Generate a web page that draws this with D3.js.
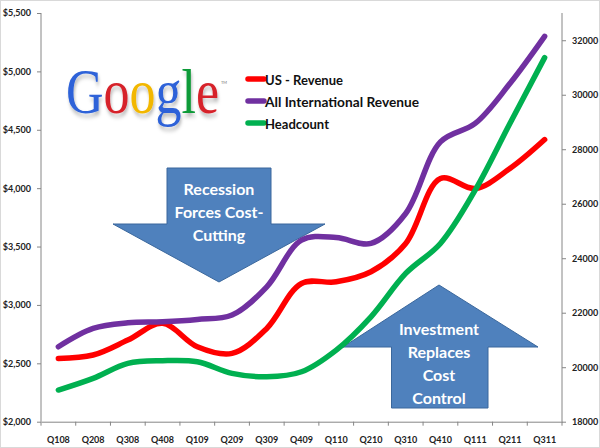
<!DOCTYPE html>
<html><head><meta charset="utf-8">
<script src="https://cdn.jsdelivr.net/npm/d3@7"></script>
<style>
html,body{margin:0;padding:0;background:#fff;}
svg{display:block;font-family:Lato,"Open Sans",sans-serif;}
</style></head>
<body><svg id="chart" width="600" height="448"></svg>
<script>
const categories = ["Q108","Q208","Q308","Q408","Q109","Q209","Q309","Q409","Q110","Q210","Q310","Q410","Q111","Q211","Q311"];
const usRevenue = [2542,2571,2699,2842,2642,2585,2799,3184,3198,3284,3527,4083,3997,4168,4416];
const intlRevenue = [2642,2799,2847,2856,2876,2913,3155,3555,3578,3527,3783,4396,4554,4896,5300];
const headcount = [19162,19591,20141,20237,20200,19775,19650,19834,20629,21850,23442,24542,26497,28942,31362];
const leftTicks = [2000,2500,3000,3500,4000,4500,5000,5500];
const rightTicks = [18000,20000,22000,24000,26000,28000,30000,32000];
const seriesNames = ["US - Revenue","All International  Revenue","Headcount"];
const seriesColors = ["#FF0000","#7030A0","#00B050"];

const svg = d3.select("#chart");
const L = 41, R = 562, T = 13, B = 421.7;

svg.append("rect").attr("x",0.5).attr("y",0.5).attr("width",599).attr("height",447)
  .attr("fill","#fff").attr("stroke","#d9d9d9");

const x = d3.scaleBand().domain(categories).range([L,R]).padding(0);
const yL = d3.scaleLinear().domain([2000,5500]).range([B,T]);
const yR = d3.scaleLinear().domain([18000,33000]).range([B,T]);
const cx = c => x(c) + x.bandwidth()/2;

// Google logo
const defs = svg.append("defs");
const f = defs.append("filter").attr("id","sh").attr("x","-10%").attr("y","-10%").attr("width","130%").attr("height","140%");
f.append("feDropShadow").attr("dx",1).attr("dy",3).attr("stdDeviation",1.6).attr("flood-color","#000").attr("flood-opacity",0.28);
const logoLetters = [["G","#2D62D8"],["o","#D6222A"],["o","#F2B705"],["g","#2D62D8"],["l","#0E9A38"],["e","#D6222A"]];
const logo = svg.append("g").attr("transform","translate(66,113) scale(1,1.2)").attr("filter","url(#sh)")
  .append("text").attr("x",0).attr("y",0)
  .attr("font-family","'Liberation Serif','DejaVu Serif',serif").attr("font-size",52);
logoLetters.forEach(([ch,col]) => logo.append("tspan").attr("fill",col).text(ch));
svg.append("text").attr("x",221).attr("y",84).attr("font-size",4).attr("fill","#777").text("TM");

// axes
const axisColor = "#868686";
const gL = svg.append("g").attr("transform",`translate(${L},0)`)
  .call(d3.axisLeft(yL).tickValues(leftTicks).tickFormat(d3.format("$,")).tickSize(4).tickSizeOuter(0));
const gR = svg.append("g").attr("transform",`translate(${R},0)`)
  .call(d3.axisRight(yR).tickValues(rightTicks).tickFormat(d3.format("d")).tickSize(4).tickSizeOuter(0));
const gB = svg.append("g").attr("transform",`translate(0,${B})`)
  .call(d3.axisBottom(x).tickSize(0).tickSizeOuter(0));
[gL,gR,gB].forEach(g => {
  g.select(".domain").attr("stroke",axisColor);
  g.selectAll(".tick line").attr("stroke",axisColor);
  g.selectAll("text").attr("font-family","Lato,sans-serif").attr("font-weight","bold")
   .attr("font-size",9).attr("fill","#222");
});
gL.select(".domain").attr("d",`M0,${T}V${B}`);
gR.select(".domain").attr("d",`M0,${T}V${B}`);
gL.selectAll(".tick text").attr("x",-10);
gR.selectAll(".tick text").attr("x",10);
gB.selectAll(".tick text").attr("y",15);
const edges = categories.map(c => x(c)).concat([R]);
svg.append("g").selectAll("line").data(edges).join("line")
  .attr("x1",d=>d).attr("x2",d=>d).attr("y1",B).attr("y2",B+4).attr("stroke",axisColor);

// annotation arrows
const arrowFill = "#4F81BD", arrowStroke = "#3A679C";
const down = {sx0:167, sx1:271, top:168, neck:224, wx0:113, wx1:325, tipX:219, tipY:282};
svg.append("path").attr("d",
  `M${down.sx0},${down.top}H${down.sx1}V${down.neck}H${down.wx1}L${down.tipX},${down.tipY}L${down.wx0},${down.neck}H${down.sx0}Z`)
  .attr("fill",arrowFill).attr("stroke",arrowStroke).attr("stroke-width",1);
const up = {sx0:391.5, sx1:488, bottom:408, neck:347, wx0:343, wx1:538, tipX:439, tipY:285};
svg.append("path").attr("d",
  `M${up.sx0},${up.bottom}H${up.sx1}V${up.neck}H${up.wx1}L${up.tipX},${up.tipY}L${up.wx0},${up.neck}H${up.sx0}Z`)
  .attr("fill",arrowFill).attr("stroke",arrowStroke).attr("stroke-width",1);
const labelStyle = t => t.attr("fill","#fff").attr("font-family","Lato,sans-serif").attr("font-weight","bold")
  .attr("font-size",16).attr("text-anchor","middle").attr("dominant-baseline","central");
[["Recession",188],["Forces Cost-",211],["Cutting",234]].forEach(([s,yy]) =>
  svg.append("text").attr("x",219).attr("y",yy).text(s).call(labelStyle));
[["Investment",328],["Replaces",351],["Cost",374],["Control",397]].forEach(([s,yy]) =>
  svg.append("text").attr("x",439).attr("y",yy).text(s).call(labelStyle));

// lines
const mk = (vals, sc) => d3.line().x((d,i)=>cx(categories[i])).y(d=>sc(d)).curve(d3.curveCatmullRom.alpha(0.5))(vals);
[[usRevenue,yL,0],[intlRevenue,yL,1],[headcount,yR,2]].forEach(([v,sc,i]) =>
  svg.append("path").attr("d",mk(v,sc)).attr("fill","none").attr("stroke",seriesColors[i])
    .attr("stroke-width",5.5).attr("stroke-linecap","round").attr("stroke-linejoin","round"));

// legend
const lg = svg.append("g");
const legLens = [78,154,64];
seriesNames.forEach((n,i) => {
  const yy = 79 + i*22;
  lg.append("line").attr("x1",248).attr("x2",264).attr("y1",yy).attr("y2",yy)
    .attr("stroke",seriesColors[i]).attr("stroke-width",5.5).attr("stroke-linecap","round");
  lg.append("text").attr("x",265).attr("y",yy).attr("dominant-baseline","central")
    .attr("font-family","Lato,sans-serif").attr("font-weight","bold").attr("font-size",14)
    .attr("fill","#111").attr("textLength",legLens[i]).attr("lengthAdjust","spacingAndGlyphs").text(n);
});
</script></body></html>
